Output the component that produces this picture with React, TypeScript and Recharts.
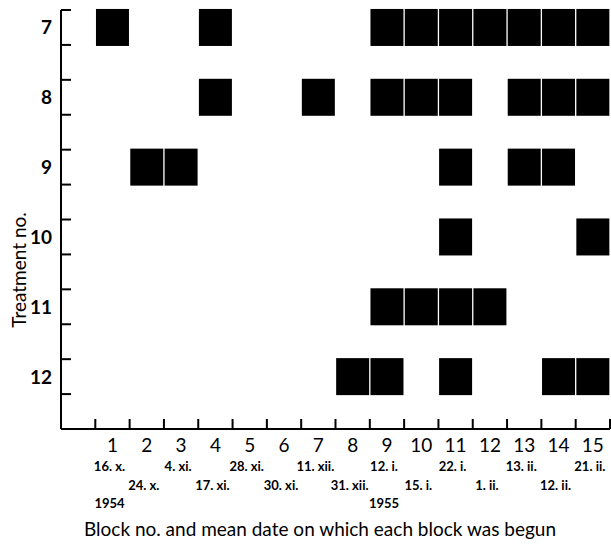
import { ComposedChart, Label, Scatter, XAxis, YAxis } from 'recharts'

const BLOCKS = [1, 2, 3, 4, 5, 6, 7, 8, 9, 10, 11, 12, 13, 14, 15]
const BLOCK_DATES = [
  '16. x.', '24. x.', '4. xi.', '17. xi.', '28. xi.', '30. xi.', '11. xii.', '31. xii.',
  '12. i.', '15. i.', '22. i.', '1. ii.', '13. ii.', '12. ii.', '21. ii.',
]
const YEAR_BLOCKS = [1, 9]
const YEAR_LABELS = ['1954', '1955']

const TREATMENTS = [7, 8, 9, 10, 11, 12]
const TREATMENT_7 = [1, 4, 9, 10, 11, 12, 13, 14, 15]
const TREATMENT_8 = [4, 7, 9, 10, 11, 13, 14, 15]
const TREATMENT_9 = [2, 3, 11, 13, 14]
const TREATMENT_10 = [11, 15]
const TREATMENT_11 = [9, 10, 11, 12]
const TREATMENT_12 = [8, 9, 11, 14, 15]

const ROWS = [TREATMENT_7, TREATMENT_8, TREATMENT_9, TREATMENT_10, TREATMENT_11, TREATMENT_12]

const FONT = 'Lato, "Open Sans", sans-serif'

// one point per filled cell, placed at the middle of its block
const cells = ROWS.flatMap((blocks, r) =>
  blocks.map((b) => ({ block: b + 0.5, treatment: TREATMENTS[r] })),
)

// ticks: integers = tick lines, halves = block labels
const xTicks = [...BLOCKS.flatMap((b) => [b, b + 0.5]), BLOCKS.length + 1]
// ticks: t±0.25 = tick lines, t = labels
const yTicks = TREATMENTS.flatMap((t) => [t - 0.25, t, t + 0.25])

function Square({ cx, cy }: any) {
  if (cx == null || cy == null) return null
  return <rect x={cx - 16.5} y={cy - 18.5} width={33} height={37} fill="#000" />
}

function XTick({ x, y, payload }: any) {
  const v = payload.value as number
  if (Number.isInteger(v)) {
    return <line x1={x} y1={y} x2={x} y2={y - 10} stroke="#000" strokeWidth={2} />
  }
  const block = Math.round(v - 0.5)
  const i = block - 1
  const yearIdx = YEAR_BLOCKS.indexOf(block)
  return (
    <g fontFamily={FONT} fill="#000" textAnchor="middle">
      <text x={x} y={y + 23} fontSize={19}>{block}</text>
      <text x={x - 3} y={y + 42 + (i % 2) * 19} fontSize={13} fontWeight={700}>
        {BLOCK_DATES[i]}
      </text>
      {yearIdx >= 0 && (
        <text x={x - 3} y={y + 79} fontSize={13} fontWeight={700}>{YEAR_LABELS[yearIdx]}</text>
      )}
    </g>
  )
}

function YTick({ x, y, payload }: any) {
  const v = payload.value as number
  if (!Number.isInteger(v)) {
    return <line x1={x} y1={y} x2={x + 10} y2={y} stroke="#000" strokeWidth={2} />
  }
  return (
    <text x={x - 9} y={y + 7} textAnchor="end" fontFamily={FONT} fontSize={19} fontWeight={700} fill="#000">
      {v}
    </text>
  )
}

export default function App() {
  return (
    <div style={{ position: 'absolute', left: 0, top: 0, background: '#fff' }}>
      <ComposedChart width={611} height={548} data={cells} margin={{ top: 10, right: 1, bottom: 0, left: 0 }}>
        <XAxis
          type="number"
          dataKey="block"
          domain={[0, BLOCKS.length + 1]}
          ticks={xTicks}
          interval={0}
          height={119}
          tickLine={false}
          tickSize={0}
          tickMargin={0}
          tick={<XTick />}
          axisLine={{ stroke: '#000', strokeWidth: 2 }}
        >
          <Label
            content={({ viewBox }: any) => (
              <text
                x={viewBox.x + 259}
                y={viewBox.y + 107}
                textAnchor="middle"
                fontFamily={FONT}
                fontSize={19}
                fill="#000"
              >
                Block no. and mean date on which each block was begun
              </text>
            )}
          />
        </XAxis>
        <YAxis
          type="number"
          dataKey="treatment"
          domain={[6.75, 12.75]}
          reversed
          ticks={yTicks}
          interval={0}
          width={61}
          tickLine={false}
          tickSize={0}
          tickMargin={0}
          tick={<YTick />}
          axisLine={{ stroke: '#000', strokeWidth: 2 }}
        >
          <Label
            content={({ viewBox }: any) => {
              const cx = viewBox.x + 18
              const cy = viewBox.y + 260
              return (
                <text
                  x={cx}
                  y={cy}
                  transform={`rotate(-90, ${cx}, ${cy})`}
                  textAnchor="middle"
                  dominantBaseline="central"
                  fontFamily={FONT}
                  fontSize={19}
                  fill="#000"
                >
                  Treatment no.
                </text>
              )
            }}
          />
        </YAxis>
        <Scatter data={cells} dataKey="treatment" shape={<Square />} isAnimationActive={false} />
      </ComposedChart>
    </div>
  )
}
